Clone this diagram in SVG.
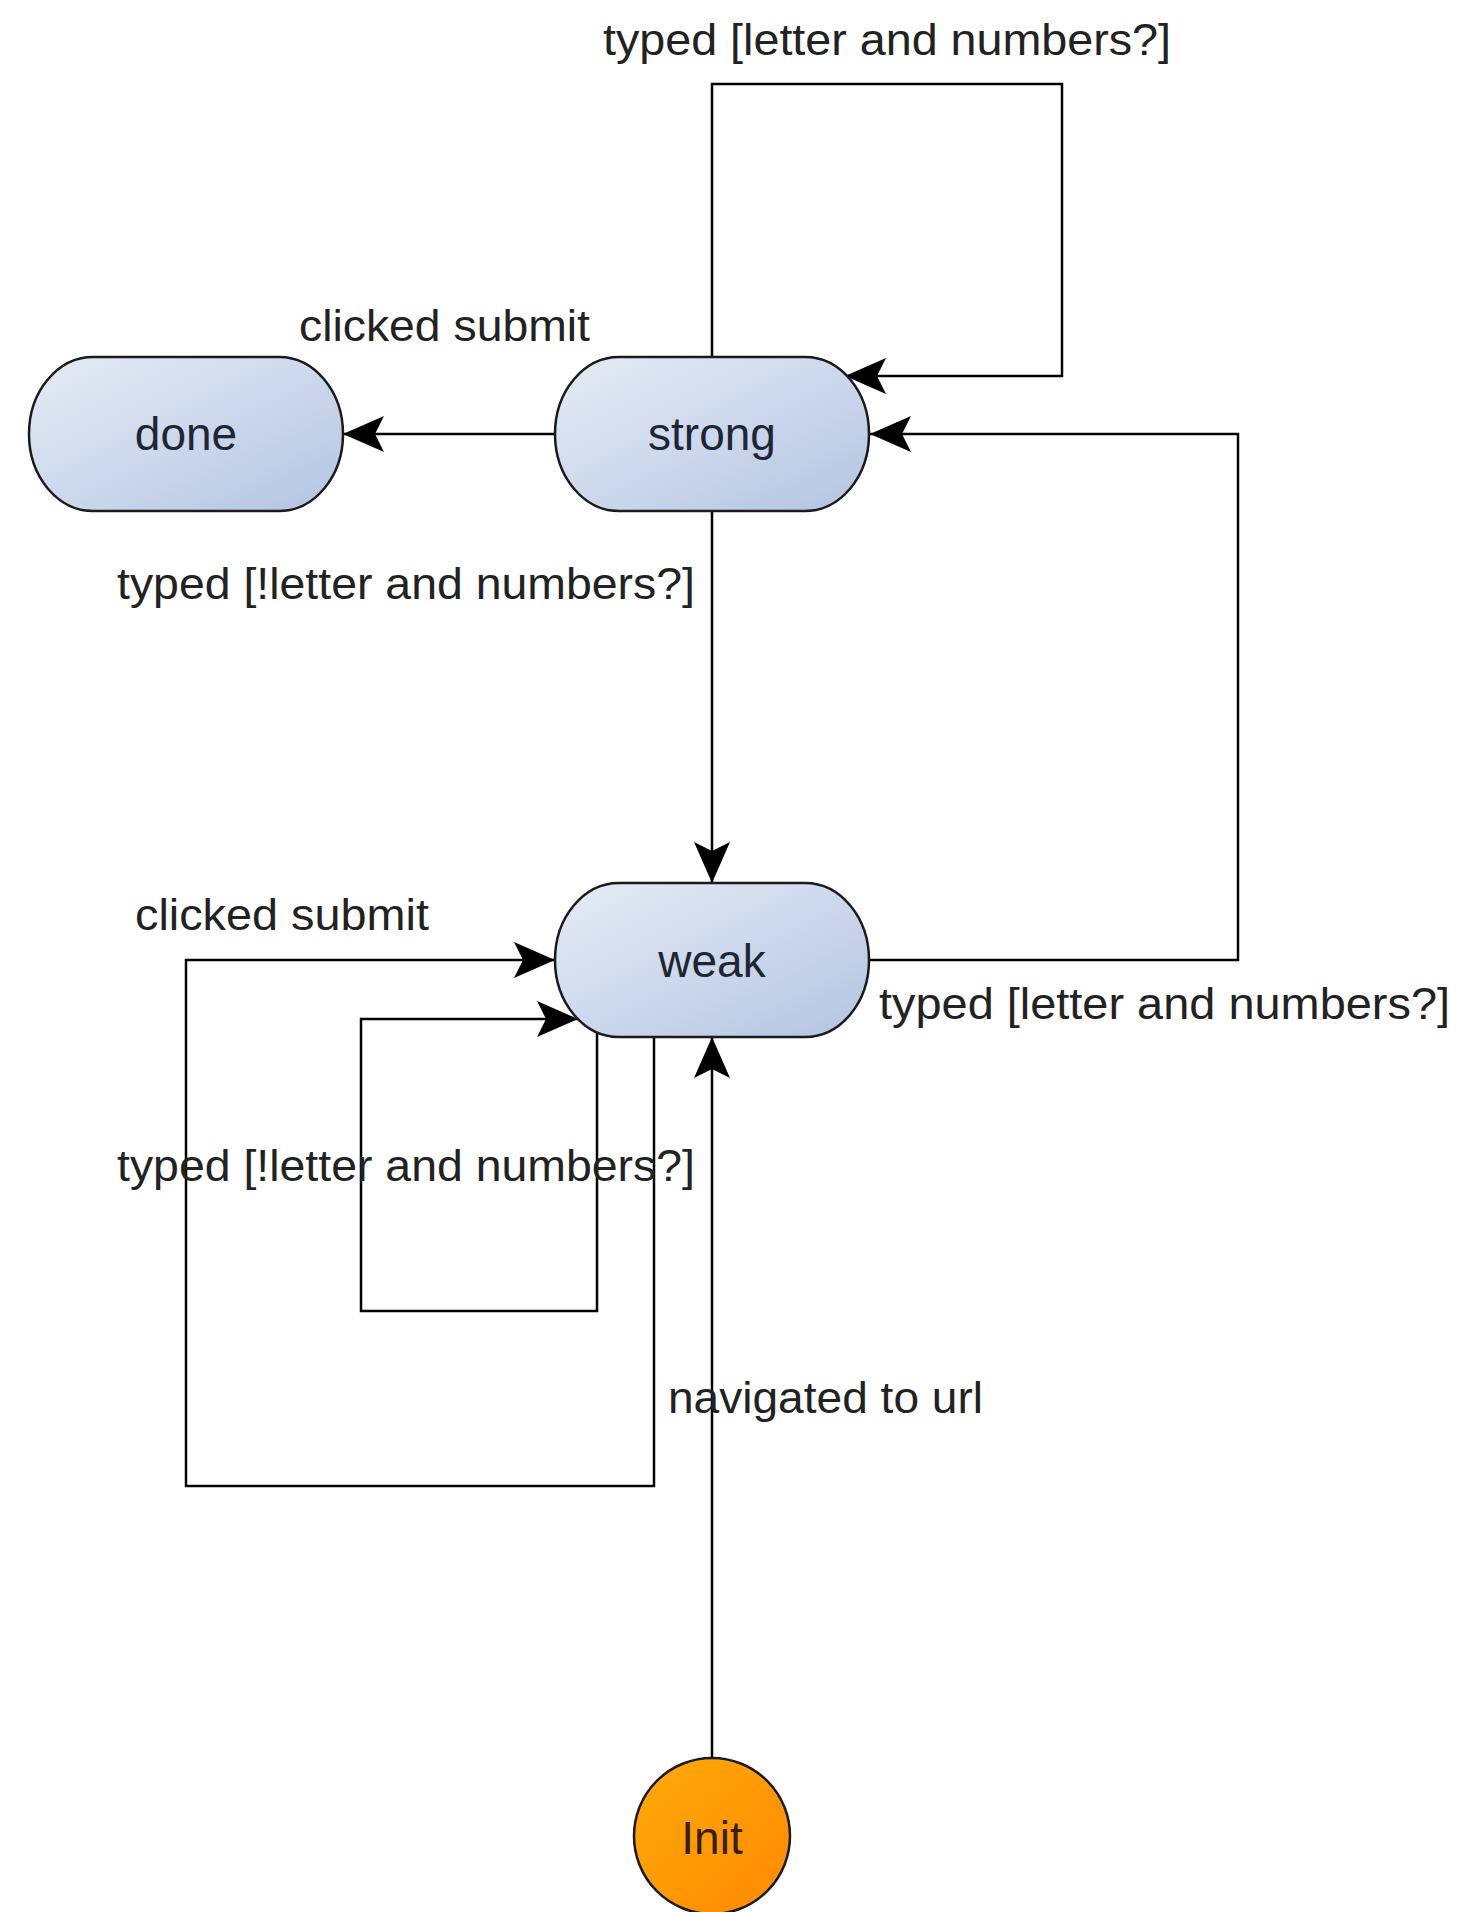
<svg xmlns="http://www.w3.org/2000/svg" width="1461" height="1912" viewBox="0 0 1461 1912">
<defs>
<linearGradient id="blue" x1="0" y1="0" x2="1" y2="1">
<stop offset="0" stop-color="#e6ecf5"/>
<stop offset="1" stop-color="#b3c4e2"/>
</linearGradient>
<linearGradient id="orange" x1="0" y1="0" x2="1" y2="1">
<stop offset="0" stop-color="#ffab0a"/>
<stop offset="1" stop-color="#ff8800"/>
</linearGradient>
<marker id="arr" viewBox="-44 -22 46 44" refX="0" refY="0" markerWidth="46" markerHeight="44" markerUnits="userSpaceOnUse" orient="auto" overflow="visible">
<path d="M0,0 L-41,-18 L-32,0 L-41,18 Z" fill="#000"/>
</marker>
<style>
.state{stroke:#1a1a1a;stroke-width:2.5;fill:url(#blue)}
.init{stroke:#1a1a1a;stroke-width:2.5;fill:url(#orange)}
.edge{fill:none;stroke:#000;stroke-width:2.5;marker-end:url(#arr)}
.nt{font-family:"Liberation Sans",Arial,sans-serif;font-size:46px;fill:#1e2633;text-anchor:middle}
.it{font-family:"Liberation Sans",Arial,sans-serif;font-size:46px;fill:#3a1e00;text-anchor:middle}
.lbl{font-family:"Liberation Sans",Arial,sans-serif;font-size:45px;fill:#222}
</style>
</defs>
<rect width="1461" height="1912" fill="#fff"/>
<g id="connectors">
<path class="edge" d="M712,357 V84 H1062 V376 H845"/>
<path class="edge" d="M555,434 H343"/>
<path class="edge" d="M712,511 V883"/>
<path class="edge" d="M869,960 H1238 V434 H870"/>
<path class="edge" d="M654,1037 V1486 H186 V960 H555"/>
<path class="edge" d="M597,1032 V1311 H361 V1019 H578"/>
<path class="edge" d="M712,1758 V1037"/>
</g>
<g id="labels">
<text class="lbl" x="603" y="55" textLength="568" lengthAdjust="spacingAndGlyphs">typed [letter and numbers?]</text>
<text class="lbl" x="299" y="341" textLength="291" lengthAdjust="spacingAndGlyphs">clicked submit</text>
<text class="lbl" x="117" y="599" textLength="578" lengthAdjust="spacingAndGlyphs">typed [!letter and numbers?]</text>
<text class="lbl" x="135" y="930" textLength="294" lengthAdjust="spacingAndGlyphs">clicked submit</text>
<text class="lbl" x="879" y="1019" textLength="571" lengthAdjust="spacingAndGlyphs">typed [letter and numbers?]</text>
<text class="lbl" x="117" y="1181" textLength="578" lengthAdjust="spacingAndGlyphs">typed [!letter and numbers?]</text>
<text class="lbl" x="668" y="1413" textLength="315" lengthAdjust="spacingAndGlyphs">navigated to url</text>
</g>
<g id="done">
<rect class="state" x="29" y="357" width="314" height="154" rx="64" ry="77"/>
<text class="nt" x="186" y="450">done</text>
</g>
<g id="strong">
<rect class="state" x="555" y="357" width="314" height="154" rx="64" ry="77"/>
<text class="nt" x="712" y="450">strong</text>
</g>
<g id="weak">
<rect class="state" x="555" y="883" width="314" height="154" rx="64" ry="77"/>
<text class="nt" x="712" y="977">weak</text>
</g>
<g id="init">
<circle class="init" cx="712" cy="1836" r="78"/>
<text class="it" x="712" y="1854">Init</text>
</g>
</svg>
